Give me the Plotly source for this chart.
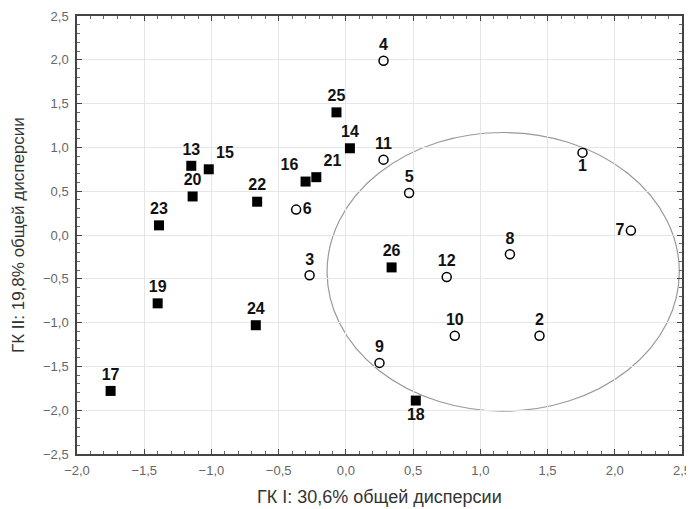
import plotly.graph_objects as go

# Group 1: filled squares
sq_labels = ["13", "15", "20", "23", "22", "16", "21", "25", "14", "19", "24", "17", "26", "18"]
sq_x = [-1.15, -1.02, -1.14, -1.39, -0.66, -0.30, -0.22, -0.07, 0.03, -1.40, -0.67, -1.75, 0.34, 0.52]
sq_y = [0.79, 0.75, 0.44, 0.11, 0.38, 0.61, 0.66, 1.40, 0.99, -0.78, -1.03, -1.78, -0.37, -1.89]
sq_pos = ["top center", "top right", "top center", "top center", "top center", "top left", "top right",
          "top center", "top center", "top center", "top center", "top center", "top center", "bottom center"]

# Group 2: open circles
ci_labels = ["1", "2", "3", "4", "5", "6", "7", "8", "9", "10", "11", "12"]
ci_x = [1.76, 1.44, -0.27, 0.28, 0.47, -0.37, 2.12, 1.22, 0.25, 0.81, 0.28, 0.75]
ci_y = [0.94, -1.15, -0.46, 1.99, 0.48, 0.29, 0.05, -0.22, -1.46, -1.15, 0.86, -0.48]
ci_pos = ["bottom center", "top center", "top center", "top center", "top center", "middle right",
          "middle left", "top center", "top center", "top center", "top center", "top center"]

# Ellipse (data units)
ell_cx, ell_cy = 1.17, -0.42
ell_rx, ell_ry = 1.31, 1.59

x_title = "ГК I: 30,6% общей дисперсии"
y_title = "ГК II: 19,8% общей дисперсии"

FONT = "Liberation Sans, Arial, sans-serif"
label_font = dict(family=FONT, size=16, color="#111111", weight="bold")

fig = go.Figure()
fig.add_trace(go.Scatter(
    x=sq_x, y=sq_y, mode="markers+text", text=sq_labels, textposition=sq_pos,
    textfont=label_font,
    marker=dict(symbol="square", size=10, color="#000000"),
    showlegend=False, cliponaxis=False))
fig.add_trace(go.Scatter(
    x=ci_x, y=ci_y, mode="markers+text", text=ci_labels, textposition=ci_pos,
    textfont=label_font,
    marker=dict(symbol="circle-open", size=9, color="#000000", line=dict(width=1.5)),
    showlegend=False, cliponaxis=False))

fig.add_shape(type="circle", xref="x", yref="y",
              x0=ell_cx - ell_rx, x1=ell_cx + ell_rx,
              y0=ell_cy - ell_ry, y1=ell_cy + ell_ry,
              line=dict(color="#999999", width=1.2), layer="below")

axis_common = dict(
    showgrid=True, gridcolor="#e6e6e6", gridwidth=1,
    zeroline=False, showline=True, linecolor="#444444", linewidth=1.5,
    mirror="allticks", ticks="inside", ticklen=5, tickcolor="#444444",
    tickformat=".1f", dtick=0.5, automargin=False,
    tickfont=dict(family=FONT, size=13, color="#666666"),
    minor=dict(ticks="inside", dtick=0.1, ticklen=3, tickcolor="#666666", showgrid=False),
)

fig.update_xaxes(range=[-2.0, 2.5], tick0=-2.0, ticklabelstandoff=4, **axis_common)
fig.update_yaxes(range=[-2.5, 2.5], tick0=-2.5, ticklabelstandoff=4, **axis_common)

fig.add_annotation(text=x_title, xref="paper", yref="paper", x=0.5, y=-0.098,
                   xanchor="center", yanchor="middle", showarrow=False,
                   font=dict(family=FONT, size=18, color="#333333"))
fig.add_annotation(text=y_title, xref="paper", yref="paper", x=-0.0975, y=0.5,
                   xanchor="center", yanchor="middle", textangle=-90, showarrow=False,
                   font=dict(family=FONT, size=17, color="#333333"))

# page body has an 8px margin: shrink the figure so it fits the 694x509 window
fig.update_layout(
    width=686, height=501,
    margin=dict(l=69, r=12, t=8, b=55),
    plot_bgcolor="white", paper_bgcolor="white",
    separators=", ",
    showlegend=False,
)

fig.write_html("out.html")
